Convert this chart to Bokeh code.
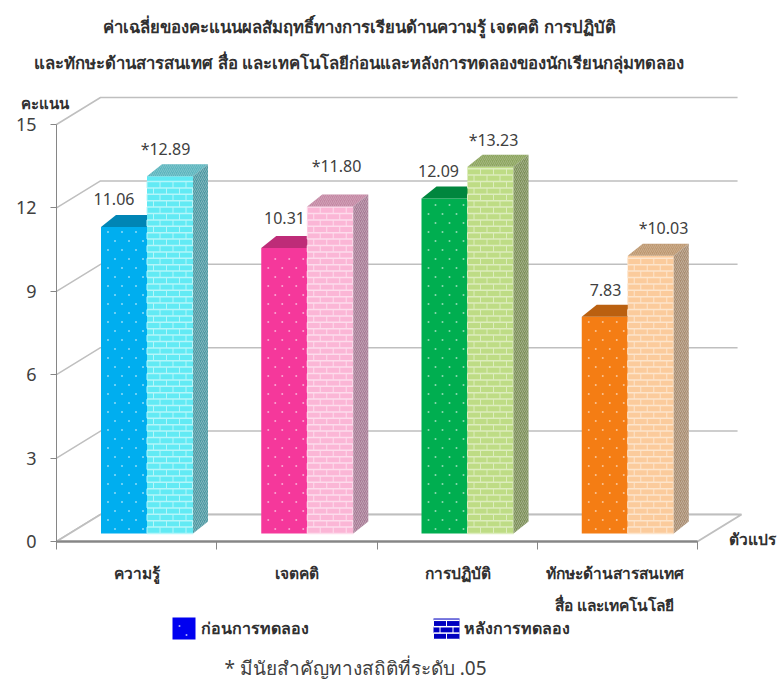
from bokeh.plotting import figure
from bokeh.embed import file_html
from bokeh.resources import INLINE
from bokeh.core.properties import value
from bokeh.models import FixedTicker, Range1d, LinearAxis

# ---- data
categories = ["ความรู้", "เจตคติ", "การปฏิบัติ", "ทักษะด้านสารสนเทศ"]
category_line2 = ["", "", "", "สื่อ และเทคโนโลยี"]
before = [11.06, 10.31, 12.09, 7.83]
after = [12.89, 11.80, 13.23, 10.03]
after_labels = ["*12.89", "*11.80", "*13.23", "*10.03"]
y_ticks = [0, 3, 6, 9, 12, 15]
title_lines = ["ค่าเฉลี่ยของคะแนนผลสัมฤทธิ์ทางการเรียนด้านความรู้  เจตคติ การปฏิบัติ",
               "และทักษะด้านสารสนเทศ  สื่อ และเทคโนโลยีก่อนและหลังการทดลองของนักเรียนกลุ่มทดลอง"]
legend_names = ["ก่อนการทดลอง", "หลังการทดลอง"]
note = "* มีนัยสำคัญทางสถิติที่ระดับ .05"
y_title = "คะแนน"
x_title = "ตัวแปร"

before_colors = ["#00AEEF", "#F5389B", "#00AE50", "#F47D14"]
after_colors = ["#62EAF4", "#FBB6D6", "#BEDC85", "#FBCB9C"]
mortar_colors = ["#B5F6FA", "#FDDCEC", "#DDEDBE", "#FDE5CC"]
top_before = ["#0085B5", "#BE2C78", "#00863E", "#BA6010"]
top_after = ["#5CB5BE", "#C488A4", "#8DA55F", "#BE9870"]
side_after = ["#4D98A2", "#A67A94", "#7C8F58", "#A88C70"]

# ---- layout: helper scales from picture pixels to chart units
W, H = 777, 679
X0_PX, Y0_PX = 56, 541
PX_X, PX_Y = 160.25, 27.8
FONT = "Noto Sans"
GRID = "#BFBFBF"


def X(px):
    return (px - X0_PX) / PX_X


def Y(py):
    return (Y0_PX - py) / PX_Y


bw = 46 / PX_X
offs = 44.5 / PX_X
base = 8 / PX_Y
lift = 7 / PX_Y
dep_x, dep_y = 15 / PX_X, 12 / PX_Y
wall_x, wall_y = 44 / PX_X, 27 / PX_Y
wall_end = 4.25
row_h = 6.4 / PX_Y
brick_w = 13 / PX_X
dot_dx, dot_dy = 14 / PX_X, 9 / PX_Y

p = figure(width=W, height=H, output_backend="svg", toolbar_location=None,
           x_range=Range1d(X(0), X(W)), y_range=Range1d(Y(H), Y(0)),
           x_axis_location=None, y_axis_location=None,
           min_border_left=0, min_border_bottom=0, min_border_right=0, min_border_top=0)
p.outline_line_color = None
p.grid.visible = False

# back wall gridlines and side-wall diagonals
for t in y_ticks:
    p.line([0, wall_x, wall_end], [t, t + wall_y, t + wall_y], line_color=GRID, line_width=1.5)
p.patch([0, wall_x, 4 + wall_x, 4], [0, wall_y, wall_y, 0], fill_color="white", line_color=GRID, line_width=2)
p.line([0, 4], [0, 0], line_color="#A6A6A6", line_width=3)

ax = LinearAxis(fixed_location=0, ticker=FixedTicker(ticks=y_ticks), bounds=(0, 15))
ax.axis_line_color = "#868686"
ax.major_tick_line_color = "#868686"
ax.major_tick_in = 0
ax.major_tick_out = 6
ax.minor_tick_line_color = None
ax.major_label_standoff = 14
ax.major_label_text_font = FONT
ax.major_label_text_font_size = "18px"
ax.major_label_text_color = "#404040"
p.add_layout(ax, "left")

bx = LinearAxis(fixed_location=0, ticker=FixedTicker(ticks=[0, 1, 2, 3, 4]), bounds=(0, 4))
bx.axis_line_color = "#868686"
bx.major_tick_line_color = "#868686"
bx.major_tick_in = 0
bx.major_tick_out = 8
bx.minor_tick_line_color = None
bx.major_label_overrides = {0: "", 1: "", 2: "", 3: "", 4: ""}
p.add_layout(bx, "below")


def bricks(x0, x1, y0, y1, body, mortar):
    p.quad(left=x0, right=x1, bottom=y0, top=y1, fill_color=body, line_color=None)
    rows = int((y1 - y0) / row_h)
    ys = [y0 + k * row_h for k in range(rows + 1)]
    p.segment(x0=[x0] * len(ys), x1=[x1] * len(ys), y0=ys, y1=ys, line_color=mortar, line_width=1.5)
    sx, s0, s1 = [], [], []
    for k in range(rows):
        start = x0 + (brick_w / 2 if k % 2 else 0)
        n = 0
        while start + n * brick_w < x1:
            sx.append(start + n * brick_w)
            s0.append(ys[k])
            s1.append(min(ys[k + 1], y1))
            n += 1
    p.segment(x0=sx, x1=sx, y0=s0, y1=s1, line_color=mortar, line_width=1)


def dotted(x0, x1, y0, y1, body, alpha=0.55):
    p.quad(left=x0, right=x1, bottom=y0, top=y1, fill_color=body, line_color=None)
    dx, dy = [], []
    rows = int((y1 - y0) / dot_dy)
    for k in range(rows):
        yy = y0 + (k + 0.5) * dot_dy
        xx = x0 + (dot_dx / 2 if k % 2 else dot_dx)
        while xx < x1 - dot_dx * 0.2:
            dx.append(xx)
            dy.append(yy)
            xx += dot_dx
    p.scatter(dx, dy, size=2, marker="circle", fill_color="white", fill_alpha=alpha, line_color=None)


# bars
for i in range(4):
    x0 = i + offs
    xa = x0 + bw
    xb = xa + bw
    b, a = before[i] + lift, after[i] + lift
    dotted(x0, xa, base, b, before_colors[i])
    p.patch([x0, x0 + dep_x, xa + dep_x, xa], [b, b + dep_y, b + dep_y, b], fill_color=top_before[i], line_color=None)
    bricks(xa, xb, base, a, after_colors[i], mortar_colors[i])
    p.patch([xa, xa + dep_x, xb + dep_x, xb], [a, a + dep_y, a + dep_y, a], fill_color=top_after[i], line_color=None,
            hatch_pattern="right_diagonal_line", hatch_color="#FFFFFF", hatch_alpha=0.2, hatch_scale=4, hatch_weight=1)
    p.patch([xb, xb + dep_x, xb + dep_x, xb], [base, base + dep_y, a + dep_y, a], fill_color=side_after[i], line_color=None,
            hatch_pattern="right_diagonal_line", hatch_color="#FFFFFF", hatch_alpha=0.3, hatch_scale=4, hatch_weight=1)

# value labels
before_pos = [(113.5, 198), (284, 217), (438, 170), (605, 289)]
after_pos = [(165, 148), (336, 165), (493, 139), (663, 227)]


def txt(t, sx, sy, size, align="center", style="normal", color="#303030"):
    p.text([X(sx)], [Y(sy)], [t], text_align=align, text_baseline="middle", text_font=value(FONT),
           text_font_size=size, text_font_style=style, text_color=color)


for i in range(4):
    txt("%.2f" % before[i], *before_pos[i], "16px", color="#404040")
    txt(after_labels[i], *after_pos[i], "16px", color="#404040")

# category labels
cat_px = [136, 296, 457, 614]
for i in range(4):
    txt(categories[i], cat_px[i], 572, "15.5px", style="bold")
    if category_line2[i]:
        txt(category_line2[i], cat_px[i], 604, "15.5px", style="bold")

txt(title_lines[0], 361, 26, "16.7px", style="bold")
txt(title_lines[1], 361, 62, "16.7px", style="bold")
txt(y_title, 44, 102, "15px", style="bold")
txt(x_title, 752, 538, "15.5px", style="bold")
txt(legend_names[0], 254, 627, "16px", style="bold")
txt(legend_names[1], 516, 627, "16px", style="bold")
txt(note, 355, 667, "19px", color="#404040")

# legend swatches
dotted(X(172), X(195), Y(639), Y(617), "#0000F0", alpha=0.7)
bricks(X(433), X(459), Y(639), Y(618), "#0000C0", "#FFFFFF")

open("out.html", "w").write(file_html(p, INLINE))
